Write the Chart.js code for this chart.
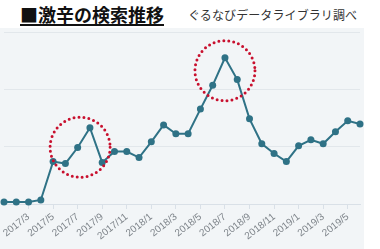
<!DOCTYPE html>
<html>
<head>
<meta charset="utf-8">
<script src="https://cdn.jsdelivr.net/npm/chart.js@4/dist/chart.umd.min.js"></script>
<style>
    html, body { margin: 0; padding: 0; background: #fff; }
    body { width: 380px; height: 249px; position: relative; overflow: hidden; }
    #title {
        position: absolute; left: 20px; top: 2px;
        font-family: "Noto Sans CJK JP", sans-serif; font-weight: bold;
        font-size: 18px; line-height: 24px; color: #111;
        text-decoration: underline; text-decoration-thickness: 2px; text-underline-offset: 2px;
    }
    #source {
        position: absolute; left: 188px; top: 7px;
        font-family: "Noto Sans CJK JP", sans-serif;
        font-size: 12px; line-height: 16px; color: #333; letter-spacing: 0.1px;
    }
    #panel {
        position: absolute; left: 0; top: 28px; width: 364px; height: 221px;
        background: #f2f5f7;
    }
</style>
</head>
<body>
<div id="title">■激辛の検索推移</div>
<div id="source">ぐるなびデータライブラリ調べ</div>
<div id="panel"><canvas id="canvas1" width="364" height="221"></canvas></div>
<script>
var months = [
    "2017/1", "2017/2", "2017/3", "2017/4", "2017/5", "2017/6",
    "2017/7", "2017/8", "2017/9", "2017/10", "2017/11", "2017/12",
    "2018/1", "2018/2", "2018/3", "2018/4", "2018/5", "2018/6",
    "2018/7", "2018/8", "2018/9", "2018/10", "2018/11", "2018/12",
    "2019/1", "2019/2", "2019/3", "2019/4", "2019/5", "2019/6"
];
var searchIndex = [
    0.7, 0.7, 0.7, 1.4, 14.8, 14.1,
    19.7, 26.6, 14.5, 18.3, 18.3, 16.2,
    21.7, 27.6, 24.5, 24.5, 33.1, 41.4,
    51.0, 43.4, 29.7, 21.0, 17.6, 14.8,
    20.3, 22.4, 21.0, 25.2, 29.0, 27.9
];
// red dotted circles: centre as (month index, value)
var circleIndex = [6.2, 18.0];
var circleValue = [19.8, 46.5];

var circles = {
    id: 'circles',
    afterDatasetsDraw: function(chart) {
        var c = chart.ctx;
        var xs = chart.scales.x, ys = chart.scales.y;
        c.save();
        c.strokeStyle = '#c8102e';
        c.lineWidth = 3;
        c.lineCap = 'round';
        c.setLineDash([0, 5]);
        for (var i = 0; i < circleIndex.length; i++) {
            c.beginPath();
            c.arc(xs.getPixelForValue(circleIndex[i]), ys.getPixelForValue(circleValue[i]), 30, 0, Math.PI * 2);
            c.stroke();
        }
        c.restore();
    }
};

var ctx = document.getElementById("canvas1").getContext("2d");
window.myLine = new Chart(ctx, {
    type: 'line',
    data: {
        labels: months,
        datasets: [{
            data: searchIndex,
            borderColor: '#2f7286',
            backgroundColor: '#2f7286',
            borderWidth: 2,
            pointRadius: 3.5,
            pointBorderWidth: 0,
            tension: 0,
            clip: false
        }]
    },
    options: {
        responsive: false,
        animation: false,
        layout: { padding: { top: 2, right: 2, left: 0, bottom: 0 } },
        plugins: { legend: { display: false }, tooltip: { enabled: false } },
        scales: {
            x: {
                afterFit: function(s) { s.height = 45; },
                border: { display: true, color: '#d9e0e7', width: 1 },
                grid: { drawOnChartArea: false, drawTicks: true, tickLength: 5, color: '#d9e0e7' },
                ticks: {
                    autoSkip: false,
                    minRotation: 38,
                    maxRotation: 38,
                    padding: 2,
                    color: '#7f858b',
                    font: { family: 'Liberation Sans, sans-serif', size: 10 },
                    callback: function(v, i) {
                        var m = parseInt(months[i].split('/')[1], 10);
                        if (i === 0 || m % 2 === 0) return null;
                        return months[i];
                    }
                }
            },
            y: {
                min: 0,
                max: 60,
                afterFit: function(s) { s.width = 0; },
                border: { display: false },
                grid: { color: '#e2e7eb', drawTicks: false },
                ticks: { display: false, stepSize: 20 }
            }
        }
    },
    plugins: [circles]
});
</script>
</body>
</html>
